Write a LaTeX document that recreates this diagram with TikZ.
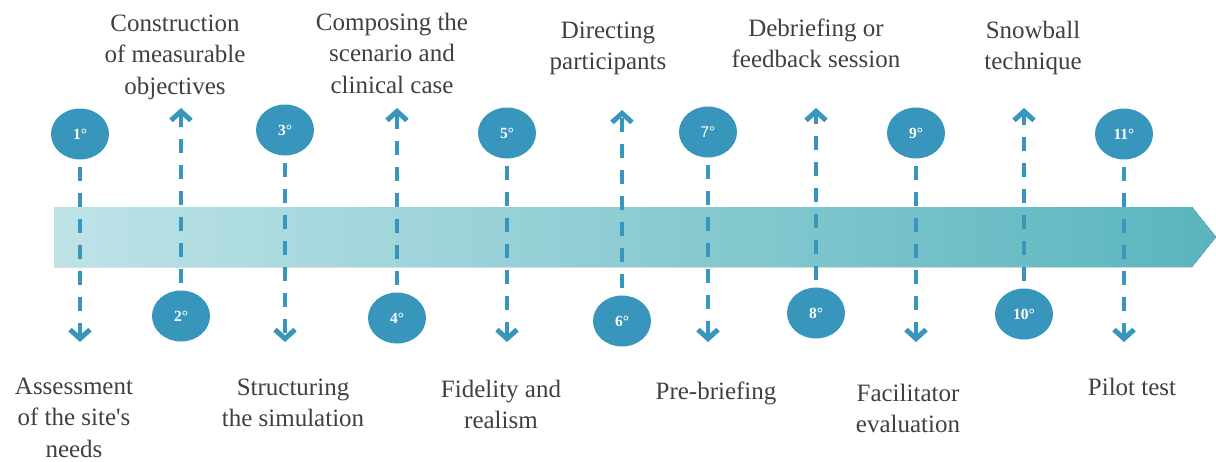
\documentclass[tikz,border=0pt]{standalone}
\usepackage{fontspec}
\setmainfont{Liberation Serif}
\setsansfont{Liberation Sans}
\usetikzlibrary{arrows.meta,shapes.geometric}
\definecolor{stepblue}{RGB}{56,150,188}
\definecolor{bandlight}{RGB}{190,227,231}
\definecolor{banddark}{RGB}{90,181,190}
\definecolor{textgray}{RGB}{64,64,64}

\begin{document}
\begin{tikzpicture}[x=1pt,y=-1pt,
  stepnode/.style={ellipse,fill=stepblue,minimum width=58pt,minimum height=51pt,inner sep=0pt,
    text=white,font=\fontsize{15.5}{15.5}\selectfont\bfseries},
  phase/.style={anchor=base,align=center,inner sep=0pt,text=textgray,font=\fontsize{25}{31.5}\selectfont},
  link/.style={stepblue,line width=4pt,dash pattern=on 14pt off 12pt,shorten <=7pt,
    -{Straight Barb[length=9pt,width=20pt,line width=5pt]}}]
\useasboundingbox (0,0) rectangle (1216,461);
% timeline band
\fill[left color=bandlight,right color=banddark] (54,207) -- (1192,207) -- (1216,237) -- (1192,267) -- (54,267) -- cycle;
% odd steps sit above the band
\node[stepnode] (s1) at (80,134) {1°};
\node[stepnode] (s3) at (285,130) {3°};
\node[stepnode] (s5) at (507,133) {5°};
\node[stepnode,font=\fontsize{15.5}{15.5}\selectfont\sffamily] (s7) at (708,132) {7°};
\node[stepnode] (s9) at (916,133) {9°};
\node[stepnode] (s11) at (1124,134) {11°};
% even steps below it
\node[stepnode] (s2) at (181,316) {2°};
\node[stepnode] (s4) at (397,318) {4°};
\node[stepnode] (s6) at (622,321) {6°};
\node[stepnode] (s8) at (816,313) {8°};
\node[stepnode] (s10) at (1024,314) {10°};
% arrow ends
\coordinate (t1) at (80,342);
\coordinate (t3) at (285,342);
\coordinate (t5) at (507,342);
\coordinate (t7) at (708,342);
\coordinate (t9) at (916,342);
\coordinate (t11) at (1124,342);
\coordinate (t2) at (181,108);
\coordinate (t4) at (397,108);
\coordinate (t6) at (622,110);
\coordinate (t8) at (816,108);
\coordinate (t10) at (1024,108);
\foreach \i in {1,...,11} \draw[link] (s\i) -- (t\i);
% phase labels (base = last line)
\node[phase] (l1) at (74,457) {Assessment\\of the site\textquotesingle s\\needs};
\node[phase] (l3) at (293,426.5) {Structuring\\the simulation};
\node[phase] (l5) at (501,428.5) {Fidelity and\\realism};
\node[phase] (l7) at (716,399) {Pre-briefing};
\node[phase] (l9) at (908,432.5) {Facilitator\\evaluation};
\node[phase] (l11) at (1132,395) {Pilot test};
\node[phase] (l2) at (175,94) {Construction\\of measurable\\objectives};
\node[phase] (l4) at (392,93) {Composing the\\scenario and\\clinical case};
\node[phase] (l6) at (608,69.5) {Directing\\participants};
\node[phase] (l8) at (816,67.5) {Debriefing or\\feedback session};
\node[phase] (l10) at (1033,69.5) {Snowball\\technique};
\end{tikzpicture}
\end{document}
